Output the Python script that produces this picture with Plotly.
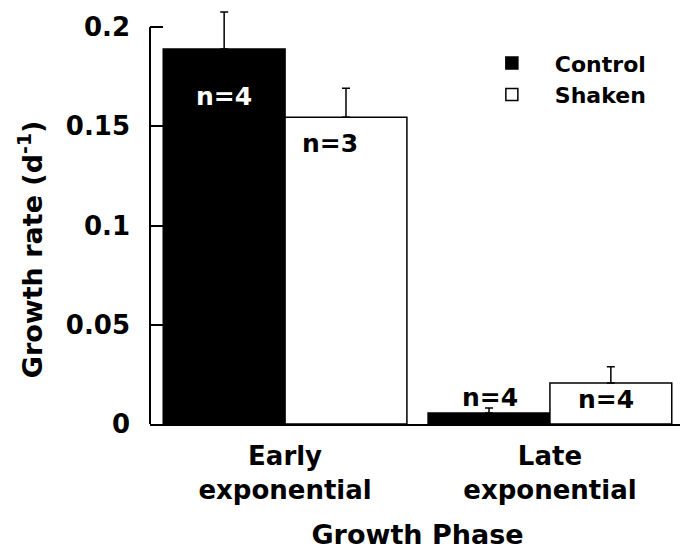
import plotly.graph_objects as go

categories = ["Early<br>exponential", "Late<br>exponential"]
control = [0.1889, 0.0056]
control_err = [0.0187, 0.0025]
shaken = [0.1545, 0.0207]
shaken_err = [0.0147, 0.0081]
control_n = ["n=4", "n=4"]
shaken_n = ["n=3", "n=4"]
y_ticks = [0, 0.05, 0.1, 0.15, 0.2]
y_ticktext = ["0", "0.05", "0.1", "0.15", "0.2"]

FONT = "DejaVu Sans, Liberation Sans, Arial, sans-serif"

fig = go.Figure()
fig.add_trace(go.Bar(
    name="Control", x=categories, y=control,
    marker=dict(color="black", line=dict(color="black", width=1.5)),
    error_y=dict(type="data", array=control_err, symmetric=False,
                 arrayminus=[0, 0], color="black", thickness=1.5, width=4),
))
fig.add_trace(go.Bar(
    name="Shaken", x=categories, y=shaken,
    marker=dict(color="white", line=dict(color="black", width=1.5)),
    error_y=dict(type="data", array=shaken_err, symmetric=False,
                 arrayminus=[0, 0], color="black", thickness=1.5, width=4),
))

# n labels
ann_font = dict(family=FONT, size=25, weight="bold")
fig.add_annotation(x=categories[0], y=control[0], xshift=-61, yshift=-47,
                   text=control_n[0], showarrow=False,
                   font=dict(ann_font, color="white"))
fig.add_annotation(x=categories[0], y=shaken[0], xshift=45, yshift=-26,
                   text=shaken_n[0], showarrow=False,
                   font=dict(ann_font, color="black"))
fig.add_annotation(x=categories[1], y=control[1], xshift=-60, yshift=15,
                   text=control_n[1], showarrow=False,
                   font=dict(ann_font, color="black"))
fig.add_annotation(x=categories[1], y=shaken[1], xshift=56, yshift=-17,
                   text=shaken_n[1], showarrow=False,
                   font=dict(ann_font, color="black"))

# y axis title
fig.add_annotation(xref="paper", yref="paper", x=-0.2243, y=0.42,
                   xanchor="center", yanchor="middle", textangle=-90,
                   text="Growth rate (d<sup>-1</sup>)", showarrow=False,
                   font=dict(family=FONT, size=27, weight="bold", color="black"))

# y axis line only up to 0.2
fig.add_shape(type="line", xref="paper", yref="y", x0=0, x1=0,
              y0=0, y1=0.2, line=dict(color="black", width=2))

fig.update_layout(
    template="none",
    width=680, height=548,
    margin=dict(l=142, r=3, t=0, b=132, autoexpand=False),
    paper_bgcolor="white", plot_bgcolor="white",
    barmode="group", bargap=0.08, bargroupgap=0,
    font=dict(family=FONT, size=24, color="black", weight="bold"),
    showlegend=True,
    legend=dict(x=0.596, y=0.918, xanchor="left", yanchor="top",
                bgcolor="rgba(0,0,0,0)", itemwidth=76,
                font=dict(family=FONT, size=22, weight="bold"),
                tracegroupgap=0),
    xaxis=dict(
        range=[-0.51, 1.51], showline=True, linecolor="black", linewidth=2,
        ticks="", showgrid=False, zeroline=False, automargin=False,
        tickfont=dict(family=FONT, size=26, weight="bold"),
        ticklabelstandoff=8,
        title=dict(text="Growth Phase", standoff=21,
                   font=dict(family=FONT, size=27, weight="bold")),
    ),
    yaxis=dict(
        range=[0, 0.2096], showline=False, showgrid=False, zeroline=False,
        automargin=False,
        tickmode="array", tickvals=y_ticks, ticktext=y_ticktext,
        ticks="inside", ticklen=13, tickwidth=2, tickcolor="black",
        ticklabelstandoff=19,
        tickfont=dict(family=FONT, size=26, weight="bold"),
    ),
)

fig.write_html("out.html")
